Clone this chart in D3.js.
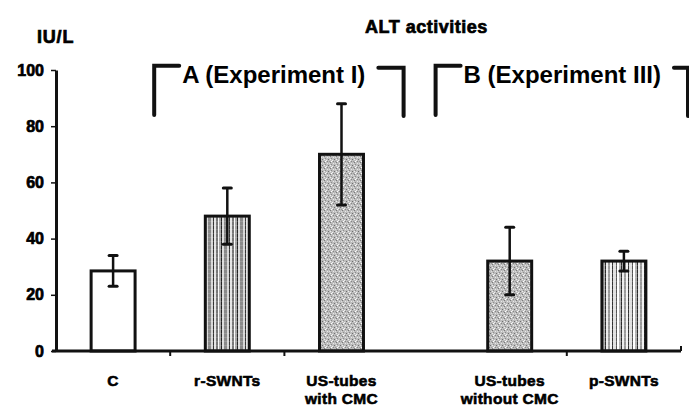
<!DOCTYPE html>
<html><head><meta charset="utf-8">
<script src="https://cdn.jsdelivr.net/npm/d3@7/dist/d3.min.js"></script>
<style>
html,body{margin:0;padding:0;background:#fff;}
svg{display:block;}
text{font-family:"Liberation Sans",Arial,sans-serif;font-weight:bold;fill:#000;}
</style></head>
<body>
<svg id="chart" width="689" height="408"></svg>
<script>
// ---- data ----
const categories = ["C", "r-SWNTs", "US-tubes with CMC", "US-tubes without CMC", "p-SWNTs"];
const labelLines = [["C"], ["r-SWNTs"], ["US-tubes", "with CMC"], ["US-tubes", "without CMC"], ["p-SWNTs"]];
const groups = ["", "A", "A", "B", "B"];
const values = [28.5, 48, 70, 32, 32];
const errors = [5.5, 10, 18, 12, 3.5];
const fills = ["white", "stripes", "stipple", "stipple", "stripesLight"];
const yTicks = [0, 20, 40, 60, 80, 100];
const groupLabels = {A: "A (Experiment I)", B: "B (Experiment III)"};
const title = "ALT activities";
const yUnit = "IU/L";

// ---- layout ----
const svg = d3.select("#chart");
const mLeft = 56, mRight = 681, mTop = 70, mBottom = 351;
const gap = 54; // empty space between experiment I and III
const y = d3.scaleLinear().domain([0, 100]).range([mBottom, mTop]);
const x = d3.scaleBand().domain(categories).range([mLeft, mRight - gap]).paddingInner(0).paddingOuter(0);
const xs = c => x(c) + (categories.indexOf(c) >= 3 ? gap : 0);
const bw = x.bandwidth();
const barW = bw * 0.385;

// ---- patterns ----
const defs = svg.append("defs");
const st = defs.append("pattern").attr("id", "stipple").attr("patternUnits", "userSpaceOnUse")
  .attr("width", 6).attr("height", 6);
st.append("rect").attr("width", 6).attr("height", 6).attr("fill", "#bdbdbd");
[[0,0,"#7a7a7a"],[3,1,"#e8e8e8"],[1,2,"#8c8c8c"],[4,3,"#6e6e6e"],[2,4,"#f0f0f0"],[5,5,"#999"],[0,3,"#eeeeee"],[3,5,"#858585"],[5,1,"#dddddd"],[1,5,"#ffffff"]]
  .forEach(([px,py,c]) => st.append("rect").attr("x",px).attr("y",py).attr("width",1).attr("height",1).attr("fill",c));

function stripePattern(id, spec) {
  const w = d3.sum(spec, s => s[0]);
  const p = defs.append("pattern").attr("id", id).attr("patternUnits", "userSpaceOnUse")
    .attr("width", w).attr("height", 4);
  let cx = 0;
  spec.forEach(([sw, c]) => { p.append("rect").attr("x", cx).attr("width", sw).attr("height", 4).attr("fill", c); cx += sw; });
  p.append("rect").attr("x",0).attr("y",1).attr("width",w).attr("height",1).attr("fill","#fff").attr("opacity",0.15);
}
stripePattern("stripes", [[3,"#8a8a8a"],[2,"#d6d6d6"],[1,"#333"],[2,"#e4e4e4"],[2,"#777"],[1,"#fafafa"],[2,"#a5a5a5"],[1,"#222"],[2,"#dcdcdc"]]);
stripePattern("stripesLight", [[2,"#9a9a9a"],[2,"#f2f2f2"],[1,"#333"],[3,"#e0e0e0"],[1,"#555"],[2,"#fff"],[2,"#b0b0b0"],[1,"#2a2a2a"],[2,"#ececec"]]);
const fillOf = f => f === "white" ? "#fff" : `url(#${f})`;

// ---- bars ----
svg.append("g").selectAll("rect").data(categories).join("rect")
  .attr("x", c => xs(c) + (bw - barW) / 2)
  .attr("y", (c, i) => y(values[i]))
  .attr("width", barW)
  .attr("height", (c, i) => y(0) - y(values[i]))
  .attr("fill", (c, i) => fillOf(fills[i]))
  .attr("stroke", "#111").attr("stroke-width", 3);

// ---- error bars ----
const eg = svg.append("g").attr("stroke", "#111");
categories.forEach((c, i) => {
  const cx = xs(c) + bw / 2;
  eg.append("line").attr("x1", cx).attr("x2", cx)
    .attr("y1", y(values[i] + errors[i])).attr("y2", y(values[i] - errors[i])).attr("stroke-width", 2.5);
  [values[i] + errors[i], values[i] - errors[i]].forEach(v =>
    eg.append("line").attr("x1", cx - 4).attr("x2", cx + 4).attr("y1", y(v)).attr("y2", y(v))
      .attr("stroke-width", 3).attr("stroke-linecap", "round"));
});

// ---- y axis ----
const yAxis = svg.append("g").attr("transform", `translate(${mLeft},0)`)
  .call(d3.axisLeft(y).tickValues(yTicks).tickSize(5).tickPadding(7).tickSizeOuter(0));
yAxis.select(".domain").attr("stroke", "#111").attr("stroke-width", 3);
yAxis.selectAll(".tick line").attr("stroke", "#111").attr("stroke-width", 1.5);
yAxis.selectAll(".tick text").attr("font-size", 16).attr("font-weight", "bold")
  .attr("font-family", "Liberation Sans, Arial, sans-serif").attr("stroke", "#000").attr("stroke-width", 0.7);

// ---- x axis ----
const xg = svg.append("g").attr("stroke", "#111");
xg.append("line").attr("x1", mLeft - 4).attr("x2", mRight).attr("y1", y(0)).attr("y2", y(0)).attr("stroke-width", 3);
xg.append("line").attr("x1", mRight).attr("x2", mRight).attr("y1", y(0)).attr("y2", y(0) - 5).attr("stroke-width", 2);
[0, 1, 3].forEach(i => {
  const bx = xs(categories[i]) + bw;
  xg.append("line").attr("x1", bx).attr("x2", bx).attr("y1", y(0)).attr("y2", y(0) + 5).attr("stroke-width", 2);
});

// ---- category labels ----
const lg = svg.append("g");
categories.forEach((c, i) => {
  labelLines[i].forEach((t, k) => {
    lg.append("text").attr("x", xs(c) + bw / 2).attr("y", y(0) + 35 + k * 18)
      .attr("text-anchor", "middle").attr("font-size", 15.5).attr("letter-spacing", 0.3)
      .attr("stroke", "#000").attr("stroke-width", 0.6).text(t);
  });
});

// ---- titles ----
svg.append("text").attr("x", mLeft - 19).attr("y", 43).attr("font-size", 18).attr("letter-spacing", 0.8)
  .attr("stroke", "#000").attr("stroke-width", 0.7).text(yUnit);
svg.append("text").attr("x", 365).attr("y", 33).attr("font-size", 18).attr("letter-spacing", 0.5)
  .attr("stroke", "#000").attr("stroke-width", 0.7).text(title);

// ---- experiment brackets ----
const bg = svg.append("g");
const brTop = y(101.5), brBot = y(84);
function bracket(gKey, x0, x1) {
  const lbl = bg.append("text").attr("x", x0 + 28).attr("y", brTop + 17).attr("font-size", 24).text(groupLabels[gKey]);
  const tw = lbl.node().getComputedTextLength();
  bg.append("path").attr("d", `M${x0},${brBot} V${brTop} H${x0 + 25}`)
    .attr("fill", "none").attr("stroke", "#111").attr("stroke-width", 4).attr("stroke-linecap", "round");
  bg.append("path").attr("d", `M${x0 + 28 + tw + 13},${brTop + 2} H${x1} V${brBot + 1}`)
    .attr("fill", "none").attr("stroke", "#111").attr("stroke-width", 4).attr("stroke-linecap", "round");
}
bracket("A", xs(categories[1]) - 16, xs(categories[2]) + bw + 5);
bracket("B", xs(categories[3]) - 17, xs(categories[4]) + bw + 7);
</script>
</body></html>
